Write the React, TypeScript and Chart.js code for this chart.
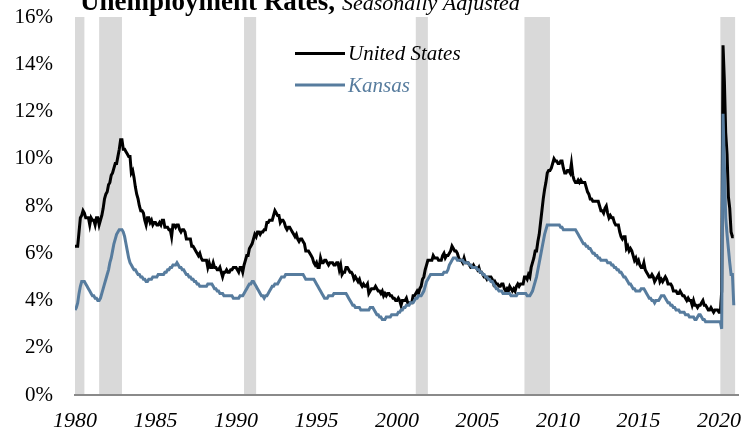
import React, { useEffect, useRef } from 'react';
import { Chart, registerables } from 'chart.js';

Chart.register(...registerables);

// ---- DATA ----
const firstYear = 1980;
const titleMain = 'Unemployment Rates,';
const titleSub = 'Seasonally Adjusted';
const seriesNames = ['United States', 'Kansas'];

// Monthly, Jan 1980 .. Dec 2020 (one row per year)
const usRate = [
  6.3, 6.3, 6.3, 6.9, 7.5, 7.6, 7.8, 7.7, 7.5, 7.5, 7.5, 7.2,
  7.5, 7.4, 7.4, 7.2, 7.5, 7.5, 7.2, 7.4, 7.6, 7.9, 8.3, 8.5,
  8.6, 8.9, 9.0, 9.3, 9.4, 9.6, 9.8, 9.8, 10.1, 10.4, 10.8, 10.8,
  10.4, 10.4, 10.3, 10.2, 10.1, 10.1, 9.4, 9.5, 9.2, 8.8, 8.5, 8.3,
  8.0, 7.8, 7.8, 7.7, 7.4, 7.2, 7.5, 7.5, 7.3, 7.4, 7.2, 7.3,
  7.3, 7.2, 7.2, 7.3, 7.2, 7.4, 7.4, 7.1, 7.1, 7.1, 7.0, 7.0,
  6.7, 7.2, 7.2, 7.1, 7.2, 7.2, 7.0, 6.9, 7.0, 7.0, 6.9, 6.6,
  6.6, 6.6, 6.6, 6.3, 6.3, 6.2, 6.1, 6.0, 5.9, 6.0, 5.8, 5.7,
  5.7, 5.7, 5.7, 5.4, 5.6, 5.4, 5.4, 5.6, 5.4, 5.4, 5.3, 5.3,
  5.4, 5.2, 5.0, 5.2, 5.2, 5.3, 5.2, 5.2, 5.3, 5.3, 5.4, 5.4,
  5.4, 5.3, 5.2, 5.4, 5.4, 5.2, 5.5, 5.7, 5.9, 5.9, 6.2, 6.3,
  6.4, 6.6, 6.8, 6.7, 6.9, 6.9, 6.8, 6.9, 6.9, 7.0, 7.0, 7.3,
  7.3, 7.4, 7.4, 7.4, 7.6, 7.8, 7.7, 7.6, 7.6, 7.3, 7.4, 7.4,
  7.3, 7.1, 7.0, 7.1, 7.1, 7.0, 6.9, 6.8, 6.7, 6.8, 6.6, 6.5,
  6.6, 6.6, 6.5, 6.4, 6.1, 6.1, 6.1, 6.0, 5.9, 5.8, 5.6, 5.5,
  5.6, 5.4, 5.4, 5.8, 5.6, 5.6, 5.7, 5.7, 5.6, 5.5, 5.6, 5.6,
  5.6, 5.5, 5.5, 5.6, 5.6, 5.3, 5.5, 5.1, 5.2, 5.2, 5.4, 5.4,
  5.3, 5.2, 5.2, 5.1, 4.9, 5.0, 4.9, 4.8, 4.9, 4.7, 4.6, 4.7,
  4.6, 4.6, 4.7, 4.3, 4.4, 4.5, 4.5, 4.5, 4.6, 4.5, 4.4, 4.4,
  4.3, 4.4, 4.2, 4.3, 4.2, 4.3, 4.3, 4.2, 4.2, 4.1, 4.1, 4.0,
  4.0, 4.1, 4.0, 3.8, 4.0, 4.0, 4.0, 4.1, 3.9, 3.9, 3.9, 3.9,
  4.2, 4.2, 4.3, 4.4, 4.3, 4.5, 4.6, 4.9, 5.0, 5.3, 5.5, 5.7,
  5.7, 5.7, 5.7, 5.9, 5.8, 5.8, 5.8, 5.7, 5.7, 5.7, 5.9, 6.0,
  5.8, 5.9, 5.9, 6.0, 6.1, 6.3, 6.2, 6.1, 6.1, 6.0, 5.8, 5.7,
  5.7, 5.6, 5.8, 5.6, 5.6, 5.6, 5.5, 5.4, 5.4, 5.5, 5.4, 5.4,
  5.3, 5.4, 5.2, 5.2, 5.1, 5.0, 5.0, 4.9, 5.0, 5.0, 5.0, 4.9,
  4.7, 4.8, 4.7, 4.7, 4.6, 4.6, 4.7, 4.7, 4.5, 4.4, 4.5, 4.4,
  4.6, 4.5, 4.4, 4.5, 4.4, 4.6, 4.7, 4.6, 4.7, 4.7, 4.7, 5.0,
  5.0, 4.9, 5.1, 5.0, 5.4, 5.6, 5.8, 6.1, 6.1, 6.5, 6.8, 7.3,
  7.8, 8.3, 8.7, 9.0, 9.4, 9.5, 9.5, 9.6, 9.8, 10.0, 9.9, 9.9,
  9.8, 9.8, 9.9, 9.9, 9.6, 9.4, 9.4, 9.5, 9.5, 9.4, 9.8, 9.3,
  9.1, 9.0, 9.0, 9.1, 9.0, 9.1, 9.0, 9.0, 9.0, 8.8, 8.6, 8.5,
  8.3, 8.3, 8.2, 8.2, 8.2, 8.2, 8.2, 8.0, 7.8, 7.8, 7.7, 7.9,
  8.0, 7.7, 7.5, 7.6, 7.5, 7.5, 7.3, 7.2, 7.2, 7.2, 6.9, 6.7,
  6.6, 6.7, 6.7, 6.2, 6.3, 6.1, 6.2, 6.1, 5.9, 5.7, 5.8, 5.6,
  5.7, 5.5, 5.4, 5.4, 5.6, 5.3, 5.2, 5.1, 5.0, 5.0, 5.1, 5.0,
  4.8, 4.9, 5.0, 5.1, 4.8, 4.9, 4.8, 4.9, 5.0, 4.9, 4.7, 4.7,
  4.7, 4.6, 4.4, 4.4, 4.4, 4.3, 4.3, 4.4, 4.3, 4.2, 4.2, 4.1,
  4.0, 4.1, 4.0, 4.0, 3.8, 4.0, 3.8, 3.8, 3.7, 3.8, 3.8, 3.9,
  4.0, 3.8, 3.8, 3.7, 3.6, 3.6, 3.7, 3.6, 3.5, 3.6, 3.6, 3.6,
  3.5, 3.5, 4.4, 14.8, 13.3, 11.1, 10.2, 8.4, 7.9, 6.9, 6.7, 6.7,
];

const kansasRate = [
  3.6, 3.7, 3.9, 4.3, 4.6, 4.8, 4.8, 4.8, 4.7, 4.6, 4.5, 4.4,
  4.3, 4.2, 4.2, 4.1, 4.1, 4.0, 4.0, 4.1, 4.3, 4.5, 4.7, 4.9,
  5.1, 5.3, 5.6, 5.8, 6.1, 6.4, 6.6, 6.8, 6.9, 7.0, 7.0, 7.0,
  6.9, 6.7, 6.4, 6.1, 5.8, 5.6, 5.5, 5.4, 5.3, 5.3, 5.2, 5.1,
  5.1, 5.0, 5.0, 4.9, 4.9, 4.8, 4.8, 4.9, 4.9, 4.9, 5.0, 5.0,
  5.0, 5.0, 5.1, 5.1, 5.1, 5.1, 5.1, 5.2, 5.2, 5.3, 5.3, 5.4,
  5.4, 5.5, 5.5, 5.5, 5.6, 5.5, 5.4, 5.4, 5.3, 5.3, 5.2, 5.1,
  5.1, 5.0, 5.0, 4.9, 4.9, 4.8, 4.8, 4.7, 4.7, 4.6, 4.6, 4.6,
  4.6, 4.6, 4.6, 4.7, 4.7, 4.7, 4.7, 4.6, 4.5, 4.5, 4.4, 4.4,
  4.3, 4.3, 4.3, 4.2, 4.2, 4.2, 4.2, 4.2, 4.2, 4.2, 4.1, 4.1,
  4.1, 4.1, 4.1, 4.2, 4.2, 4.2, 4.3, 4.4, 4.5, 4.6, 4.7, 4.7,
  4.8, 4.8, 4.7, 4.6, 4.5, 4.4, 4.3, 4.2, 4.2, 4.1, 4.2, 4.2,
  4.3, 4.4, 4.5, 4.6, 4.6, 4.7, 4.7, 4.7, 4.8, 4.9, 5.0, 5.0,
  5.0, 5.1, 5.1, 5.1, 5.1, 5.1, 5.1, 5.1, 5.1, 5.1, 5.1, 5.1,
  5.1, 5.1, 5.1, 5.0, 4.9, 4.9, 4.9, 4.9, 4.9, 4.9, 4.9, 4.8,
  4.7, 4.6, 4.5, 4.4, 4.3, 4.2, 4.1, 4.1, 4.1, 4.2, 4.2, 4.2,
  4.2, 4.3, 4.3, 4.3, 4.3, 4.3, 4.3, 4.3, 4.3, 4.3, 4.3, 4.2,
  4.1, 4.0, 3.9, 3.8, 3.8, 3.7, 3.7, 3.7, 3.7, 3.6, 3.6, 3.6,
  3.6, 3.6, 3.6, 3.6, 3.7, 3.7, 3.7, 3.6, 3.5, 3.4, 3.4, 3.3,
  3.3, 3.2, 3.2, 3.2, 3.3, 3.3, 3.3, 3.3, 3.4, 3.4, 3.4, 3.4,
  3.4, 3.5, 3.5, 3.6, 3.6, 3.7, 3.7, 3.8, 3.8, 3.8, 3.9, 3.9,
  3.9, 4.0, 4.1, 4.1, 4.2, 4.2, 4.2, 4.3, 4.4, 4.6, 4.8, 4.9,
  5.0, 5.1, 5.1, 5.1, 5.1, 5.1, 5.1, 5.1, 5.1, 5.1, 5.1, 5.2,
  5.2, 5.2, 5.3, 5.5, 5.6, 5.7, 5.8, 5.8, 5.8, 5.7, 5.7, 5.7,
  5.7, 5.7, 5.6, 5.6, 5.6, 5.6, 5.5, 5.5, 5.4, 5.4, 5.4, 5.4,
  5.3, 5.3, 5.2, 5.2, 5.1, 5.1, 5.0, 5.0, 4.9, 4.9, 4.8, 4.8,
  4.7, 4.6, 4.5, 4.5, 4.4, 4.4, 4.4, 4.3, 4.3, 4.3, 4.3, 4.3,
  4.3, 4.2, 4.2, 4.2, 4.2, 4.2, 4.3, 4.3, 4.3, 4.3, 4.3, 4.3,
  4.3, 4.2, 4.2, 4.2, 4.3, 4.4, 4.6, 4.8, 5.0, 5.3, 5.6, 5.9,
  6.2, 6.5, 6.8, 7.0, 7.2, 7.2, 7.2, 7.2, 7.2, 7.2, 7.2, 7.2,
  7.2, 7.2, 7.1, 7.1, 7.0, 7.0, 7.0, 7.0, 7.0, 7.0, 7.0, 7.0,
  7.0, 7.0, 6.9, 6.8, 6.7, 6.6, 6.5, 6.4, 6.4, 6.3, 6.3, 6.2,
  6.2, 6.1, 6.0, 6.0, 5.9, 5.9, 5.8, 5.8, 5.7, 5.7, 5.7, 5.7,
  5.7, 5.6, 5.6, 5.6, 5.5, 5.5, 5.4, 5.4, 5.3, 5.3, 5.2, 5.2,
  5.1, 5.0, 5.0, 4.9, 4.8, 4.7, 4.7, 4.6, 4.5, 4.5, 4.4, 4.4,
  4.4, 4.4, 4.5, 4.5, 4.5, 4.4, 4.3, 4.2, 4.1, 4.1, 4.0, 4.0,
  3.9, 4.0, 4.0, 4.0, 4.1, 4.2, 4.2, 4.2, 4.1, 4.0, 3.9, 3.9,
  3.8, 3.8, 3.7, 3.7, 3.6, 3.6, 3.6, 3.5, 3.5, 3.5, 3.5, 3.4,
  3.4, 3.4, 3.3, 3.3, 3.3, 3.3, 3.2, 3.2, 3.3, 3.4, 3.4, 3.3,
  3.2, 3.2, 3.1, 3.1, 3.1, 3.1, 3.1, 3.1, 3.1, 3.1, 3.1, 3.1,
  3.1, 3.1, 2.8, 11.9, 9.7, 7.5, 6.8, 6.2, 5.6, 5.1, 5.1, 3.8,
];

// Recessions (first and last month, inclusive)
const recessionStart = ['1980-01', '1981-07', '1990-07', '2001-03', '2007-12', '2020-02'];
const recessionEnd = ['1980-07', '1982-11', '1991-03', '2001-11', '2009-06', '2020-12'];

const xTickYears = [1980, 1985, 1990, 1995, 2000, 2005, 2010, 2015, 2020];
const yTickValues = [0, 2, 4, 6, 8, 10, 12, 14, 16];

// ---- STYLE ----
const US_COLOR = '#000000';
const KS_COLOR = '#577c9e';
const SHADE = '#d9d9d9';
const SERIF = '"Liberation Serif", "Times New Roman", serif';

const monthToYear = (s: string) => {
  const [y, m] = s.split('-').map(Number);
  return y + (m - 1) / 12;
};
const toPoints = (arr: number[]) => arr.map((v, i) => ({ x: firstYear + i / 12, y: v }));

const recessionPlugin = {
  id: 'recessions',
  beforeDraw(chart: any) {
    const { ctx, scales } = chart;
    const xs = scales.x;
    const ys = scales.y;
    ctx.save();
    ctx.fillStyle = SHADE;
    const top = ys.getPixelForValue(yTickValues[yTickValues.length - 1]);
    const bottom = ys.getPixelForValue(0);
    recessionStart.forEach((s, i) => {
      const x0 = xs.getPixelForValue(monthToYear(s));
      const x1 = xs.getPixelForValue(monthToYear(recessionEnd[i]) + 1 / 12);
      ctx.fillRect(x0, top, x1 - x0, bottom - top);
    });
    ctx.restore();
  },
};

const overlayPlugin = {
  id: 'overlay',
  afterDraw(chart: any) {
    const { ctx } = chart;
    ctx.save();
    // Title (clipped at top like the reference)
    ctx.textBaseline = 'alphabetic';
    ctx.textAlign = 'left';
    ctx.fillStyle = '#000';
    ctx.font = `bold 27px ${SERIF}`;
    ctx.fillText(titleMain, 80, 9.5);
    const w = ctx.measureText(titleMain).width;
    ctx.font = `italic 22px ${SERIF}`;
    ctx.fillText(titleSub, 80 + w + 7, 9.5);

    // Legend
    const items = [
      { label: seriesNames[0], color: US_COLOR, y: 53.5 },
      { label: seriesNames[1], color: KS_COLOR, y: 85 },
    ];
    ctx.font = `italic 21px ${SERIF}`;
    ctx.textBaseline = 'middle';
    items.forEach((it) => {
      ctx.strokeStyle = it.color;
      ctx.lineWidth = 3;
      ctx.beginPath();
      ctx.moveTo(295, it.y);
      ctx.lineTo(345, it.y);
      ctx.stroke();
      ctx.fillStyle = it.color;
      ctx.fillText(it.label, 348, it.y + 1);
    });
    ctx.restore();
  },
};

export default function App() {
  const ref = useRef<HTMLCanvasElement | null>(null);

  useEffect(() => {
    if (!ref.current) return;
    const chart = new Chart(ref.current, {
      type: 'line',
      data: {
        datasets: [
          {
            label: seriesNames[0],
            data: toPoints(usRate),
            borderColor: US_COLOR,
            borderWidth: 3,
            pointRadius: 0,
            tension: 0,
            order: 1,
          },
          {
            label: seriesNames[1],
            data: toPoints(kansasRate),
            borderColor: KS_COLOR,
            borderWidth: 3,
            pointRadius: 0,
            tension: 0,
            order: 0,
          },
        ],
      },
      options: {
        animation: false,
        responsive: false,
        devicePixelRatio: 1,
        layout: { padding: { left: 0, right: 15, top: 17, bottom: 0 } },
        plugins: {
          legend: { display: false },
          tooltip: { enabled: false },
          title: { display: false },
        },
        scales: {
          x: {
            type: 'linear',
            min: firstYear,
            max: 2021.18,
            grid: { display: false, drawTicks: true, tickLength: 13 },
            border: { display: true, color: '#8a8a8a', width: 2 },
            afterBuildTicks: (s: any) => {
              s.ticks = xTickYears.map((v) => ({ value: v }));
            },
            afterFit: (s: any) => {
              s.height = 43;
            },
            ticks: {
              autoSkip: false,
              maxRotation: 0,
              padding: 0,
              color: '#000',
              font: { family: SERIF, size: 22, style: 'italic' },
              callback: (v: any) => String(v),
            },
          },
          y: {
            min: 0,
            max: 16,
            grid: { display: false, drawTicks: true, tickLength: 22 },
            border: { display: false },
            afterBuildTicks: (s: any) => {
              s.ticks = yTickValues.map((v) => ({ value: v }));
            },
            afterFit: (s: any) => {
              s.width = 75;
            },
            ticks: {
              padding: 0,
              color: '#000',
              font: { family: SERIF, size: 21 },
              callback: (v: any) => `${v}%`,
            },
          },
        },
      },
      plugins: [recessionPlugin, overlayPlugin],
    });
    return () => chart.destroy();
  }, []);

  return (
    <div style={{ position: 'fixed', left: 0, top: 0, width: 753, height: 438, background: '#fff' }}>
      <canvas ref={ref} width={753} height={438} />
    </div>
  );
}
